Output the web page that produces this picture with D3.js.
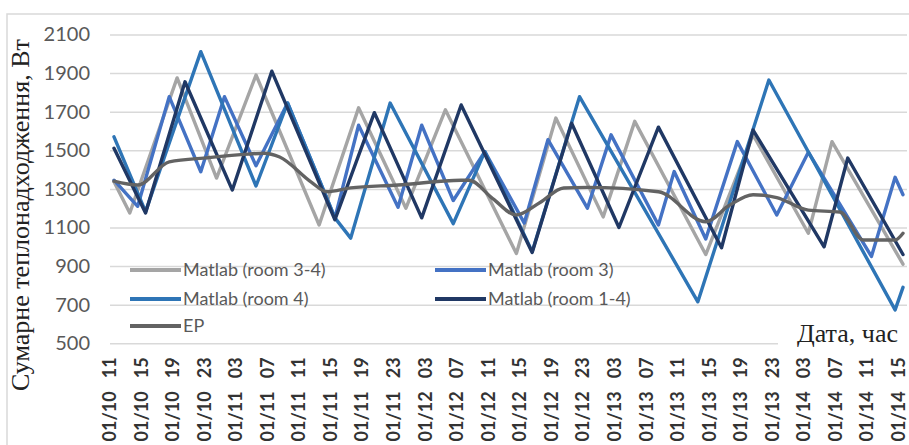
<!DOCTYPE html>
<html>
<head>
<meta charset="utf-8">
<script src="https://cdnjs.cloudflare.com/ajax/libs/d3/7.8.5/d3.min.js"></script>
<style>
  body { margin: 0; background: #fff; }
  svg { display: block; }
</style>
</head>
<body>
<div id="chart"></div>
<script>
var width = 909, height = 445

// tick labels, one every 4 hours (data is hourly, 0..100)
var tickLabels = ["01/10 11","01/10 15","01/10 19","01/10 23","01/11 03","01/11 07",
  "01/11 11","01/11 15","01/11 19","01/11 23","01/12 03","01/12 07","01/12 11",
  "01/12 15","01/12 19","01/12 23","01/13 03","01/13 07","01/13 11","01/13 15",
  "01/13 19","01/13 23","01/14 03","01/14 07","01/14 11","01/14 15"]

var seriesNames = ["Matlab (room 3-4)", "Matlab (room 3)", "Matlab (room 4)", "Matlab (room 1-4)", "EP"]
var seriesColors = ["#a5a5a5", "#4472c4", "#2e75b6", "#203864", "#636363"]

// [hour, W] vertices
var room34 = [[0,1337],[2,1175],[8,1875],[13,1356],[18,1890],[26,1113],[31,1720],[37,1200],
  [42,1710],[51,965],[56,1667],[62,1155],[66,1650],[75,960],[81,1580],[88,1070],[91,1545],[100,910]]
var room3 = [[0,1345],[3,1210],[7,1778],[11,1389],[14,1778],[18,1420],[22,1745],[28,1150],
  [31,1630],[36,1205],[39,1630],[43,1240],[47,1493],[52,1123],[55,1555],[60,1200],[63,1580],
  [69,1113],[71,1390],[75,1040],[79,1545],[84,1165],[88,1490],[96,950],[99,1360],[100,1270]]
var room4 = [[0,1570],[4,1182],[11,2011],[18,1315],[22,1745],[28,1150],[30,1045],[35,1745],
  [43,1120],[47,1493],[53,975],[59,1778],[74,715],[83,1864],[99,673],[100,790]]
var room14 = [[0,1510],[4,1175],[9,1855],[15,1294],[20,1910],[28,1140],[33,1695],[39,1150],
  [44,1735],[53,970],[58,1640],[64,1100],[69,1620],[77,995],[81,1605],[90,1000],[93,1460],[100,960]]
var ep = [[0,1340],[3,1320],[7,1440],[12,1462],[17,1480],[19,1485],[21,1465],[25,1335],[27,1285],
  [30,1305],[36,1320],[44,1345],[45,1345],[48,1250],[51,1165],[54,1230],[57,1305],[60,1308],
  [69,1285],[75,1130],[78,1215],[81,1270],[84,1255],[88,1190],[92,1180],[95,1035],[99,1035],[100,1070]]

var allSeries = [room34, room3, room4, room14, ep]

var svg = d3.select("#chart")
    .append("svg")
    .attr("width", width)
    .attr("height", height)

svg.append("rect").attr("width", width).attr("height", height).attr("fill", "#fff")

// chart border (only top and left are in frame)
svg.append("path")
    .attr("d", "M7,445V14H909")
    .attr("fill", "none")
    .attr("stroke", "#d9d9d9")
    .attr("stroke-width", 1.5)

var plotL = 110, plotR = 907

var x = d3.scaleLinear().domain([0, 100]).range([114, 903])
var y = d3.scaleLinear().domain([500, 2100]).range([343.3, 34.5])

// gridlines + y labels
var yAxis = d3.axisLeft(y)
    .tickValues(d3.range(500, 2101, 200))
    .tickSize(-(plotR - plotL))
    .tickFormat(d3.format("d"))

var gy = svg.append("g")
    .attr("transform", "translate(" + plotL + ",0)")
    .call(yAxis)
gy.select(".domain").remove()
gy.selectAll(".tick line").attr("stroke", "#d9d9d9").attr("stroke-width", 1.5)
gy.selectAll(".tick text")
    .attr("x", 90 - plotL)
    .style("font", "normal 20px Lato")
    .attr("fill", "#595959")

// x labels
var xAxis = d3.axisBottom(x)
    .tickValues(d3.range(0, 101, 4))
    .tickSize(0)
    .tickFormat(function(d, i) { return tickLabels[i].replace(" ", "   ") })

var gx = svg.append("g")
    .attr("transform", "translate(0," + y(500) + ")")
    .call(xAxis)
gx.select(".domain").remove()
gx.selectAll(".tick text")
    .attr("transform", "rotate(-90)")
    .attr("x", -14)
    .attr("y", -5)
    .attr("dy", "0.36em")
    .style("text-anchor", "end")
    .style("white-space", "pre")
    .style("font", "bold 18px Lato")
    .attr("fill", "#333")

// legend (drawn before lines, lines pass over it)
var legendPos = [[130, 270], [435, 270], [130, 299], [435, 299], [130, 326]]
var legend = svg.append("g")
seriesNames.forEach(function(name, i) {
    var p = legendPos[i]
    legend.append("line")
        .attr("x1", p[0]).attr("x2", p[0] + 51)
        .attr("y1", p[1]).attr("y2", p[1])
        .attr("stroke", seriesColors[i])
        .attr("stroke-width", 4)
    legend.append("text")
        .attr("x", p[0] + 53)
        .attr("y", p[1])
        .attr("dy", "0.36em")
        .style("font", "normal 18px Lato")
        .attr("fill", "#595959")
        .text(name)
})

// axis titles
var xt = svg.append("g")
xt.append("rect")
    .attr("x", 778).attr("y", 318).attr("width", 130).attr("height", 30)
    .attr("fill", "#fff")
xt.append("text")
    .attr("x", 898)
    .attr("y", 342)
    .style("text-anchor", "end")
    .style("font", "normal 26px 'Liberation Serif'")
    .attr("fill", "#222")
    .text("Дата, час")

svg.append("text")
    .attr("transform", "translate(29,215) rotate(-90)")
    .style("text-anchor", "middle")
    .style("font", "normal 26px 'Liberation Serif'")
    .attr("fill", "#222")
    .text("Сумарне теплонадходження, Вт")

// lines
var line = d3.line()
    .x(function(d) { return x(d[0]) })
    .y(function(d) { return y(d[1]) })
var smooth = d3.line()
    .curve(d3.curveMonotoneX)
    .x(function(d) { return x(d[0]) })
    .y(function(d) { return y(d[1]) })

svg.append("g").selectAll("path")
    .data(allSeries)
    .enter().append("path")
    .attr("d", function(d, i) { return i === 4 ? smooth(d) : line(d) })
    .attr("fill", "none")
    .attr("stroke", function(d, i) { return seriesColors[i] })
    .attr("stroke-width", 3.4)
    .attr("stroke-linejoin", "round")
    .attr("stroke-linecap", "round")
</script>
</body>
</html>
